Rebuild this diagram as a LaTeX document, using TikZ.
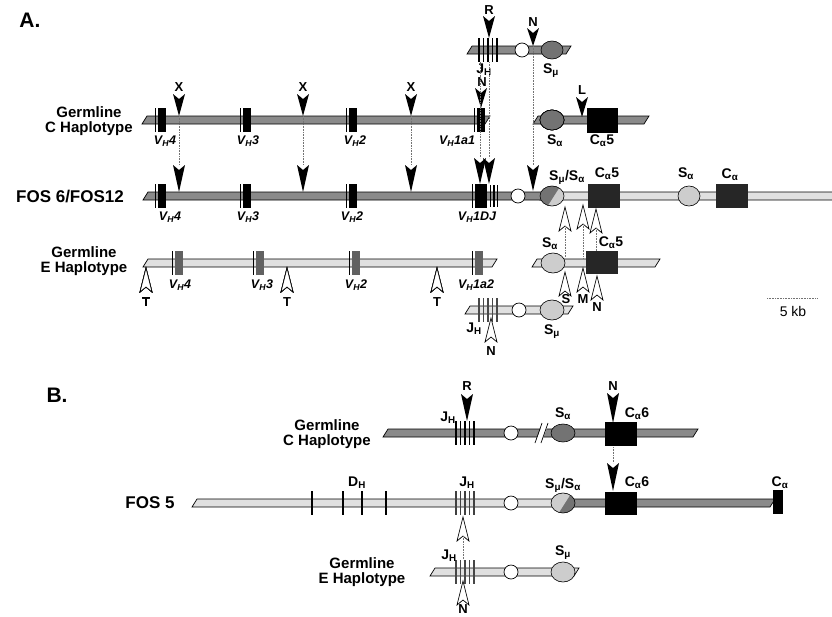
\documentclass[tikz,border=0pt]{standalone}
\usepackage{fontspec}
\setmainfont{Liberation Sans}
\usetikzlibrary{positioning}
\definecolor{chap}{RGB}{138,138,138}
\definecolor{ehap}{RGB}{224,224,224}
\definecolor{swdark}{RGB}{115,115,115}
\definecolor{swlight}{RGB}{205,205,205}
\definecolor{cblock}{RGB}{38,38,38}
\newcommand{\gVH}{V\textsubscript{H}}
\newcommand{\gJH}{J\textsubscript{H}}
\newcommand{\gDH}{D\textsubscript{H}}
\newcommand{\gSa}{S\textsubscript{α}}
\newcommand{\gSm}{S\textsubscript{μ}}
\newcommand{\gCa}{C\textsubscript{α}}
% chromosome bar with slanted ends: x1, x2, y, fill
\newcommand{\dnabar}[4]{\filldraw[fill=#4,draw=black,line width=0.7pt] (#1,#3+4) -- (#1+5,#3-4) -- (#2+5,#3-4) -- (#2,#3+4) -- cycle;}
% J_H cluster: x, y, colour
\newcommand{\jbars}[3]{\foreach \k in {0,...,4} \draw[line width=1.8pt,#3] (#1+1+4.5*\k,#2-12) -- (#1+1+4.5*\k,#2+12);}
% V segment: x, y, fill
\newcommand{\vseg}[3]{\draw[line width=0.5pt] (#1-3,#2-12) -- (#1-3,#2+12); \fill[#3] (#1,#2-12) rectangle (#1+8,#2+12);}
% black probe arrow: name, x, tip y, length
\newcommand{\dnarrow}[4]{\fill[black] (#2,#3) -- (#2-6,#3-#4) -- (#2,#3-#4+5) -- (#2+6,#3-#4) -- cycle;
  \coordinate (#1) at (#2,#3-#4); \coordinate (#1t) at (#2,#3);}
% open site arrow: name, x, tip y
\newcommand{\openarr}[3]{\filldraw[fill=white,draw=black,line width=0.7pt] (#2,#3) -- (#2-6,#3+24) -- (#2,#3+19) -- (#2+6,#3+24) -- cycle;
  \coordinate (#1) at (#2,#3+19);}
% hybrid switch region: x, y, upper-left fill, lower-right fill
\newcommand{\splitsw}[4]{\begin{scope}
  \clip (#1,#2) ellipse[x radius=12pt,y radius=10pt];
  \fill[#4] (#1-13,#2-11) rectangle (#1+13,#2+11);
  \fill[#3] (#1-13,#2-11) -- (#1+9,#2-11) -- (#1-5,#2+11) -- (#1-13,#2+11) -- cycle;
  \end{scope}
  \draw[line width=0.6pt] (#1,#2) ellipse[x radius=12pt,y radius=10pt];}

\begin{document}
\begin{tikzpicture}[x=1pt,y=-1pt,
  panel/.style={font=\bfseries\fontsize{21}{21}\selectfont,inner sep=0pt},
  rowname/.style={font=\bfseries\fontsize{15}{15}\selectfont,align=center,inner sep=0pt},
  fosname/.style={font=\bfseries\fontsize{17}{17}\selectfont,inner sep=0pt},
  seglab/.style={font=\bfseries\fontsize{14}{14}\selectfont,inner sep=0pt},
  vlab/.style={font=\bfseries\itshape\fontsize{12.5}{12.5}\selectfont,inner sep=0pt},
  sitelab/.style={font=\bfseries\fontsize{13}{13}\selectfont,inner sep=0pt},
  link/.style={densely dotted,line width=0.6pt,black!55},
  switchreg/.style={draw=black,line width=0.6pt},
  hinge/.style={fill=white,draw=black,line width=0.7pt}
]
\useasboundingbox (0,0) rectangle (832,616);

%%% A
\node[panel] (pA) at (30,20) {A.};

% J_H - S_mu fragment
\dnabar{467}{566}{50}{chap}
\jbars{478}{50}{black}
\filldraw[hinge] (522,50) circle[radius=7pt];
\filldraw[switchreg,fill=swdark] (552,50) ellipse[x radius=11pt,y radius=9pt];
\dnarrow{rT}{489}{38}{22}
\dnarrow{nT}{533}{46}{18}
\node[sitelab] (lR1) at (489,10) {R};
\node[sitelab] (lN1) at (533,22) {N};
\node[seglab] (lJ1) at (484,70) {\gJH};
\node[seglab] (lSm1) at (551,71) {\gSm};
\coordinate (jT1) at (480,62);
\coordinate (jT2) at (489,62);

% germline C haplotype
\node[rowname] (gC) at (89,121) {Germline\\C Haplotype};
\dnabar{142}{485}{120}{chap}
\dnabar{533}{644}{120}{chap}
\foreach \v in {158,243,349,477} \vseg{\v}{120}{black}
\filldraw[switchreg,fill=swdark] (552,120) ellipse[x radius=12pt,y radius=10pt];
\fill[black] (587,108) rectangle (618,133);
\dnarrow{xc1}{179}{116}{22}
\dnarrow{xc2}{303}{116}{22}
\dnarrow{xc3}{411}{116}{22}
\dnarrow{nc}{481}{108}{20}
\dnarrow{lc}{582}{117}{20}
\node[sitelab] (lX1) at (179,87) {X};
\node[sitelab] (lX2) at (303,87) {X};
\node[sitelab] (lX3) at (411,87) {X};
\node[sitelab] (lN2) at (482,82) {N};
\node[sitelab] (lL) at (582,90) {L};
\node[vlab] (vc4) at (165,141) {\gVH4};
\node[vlab] (vc3) at (248,141) {\gVH3};
\node[vlab] (vc2) at (355,141) {\gVH2};
\node[vlab] (vc1) at (457,141) {\gVH1a1};
\node[seglab] (lSa1) at (555,141) {\gSa};
\node[seglab] (lCa1) at (602,141) {\gCa5};

% FOS 6 / FOS12
\node[fosname] (f6) at (70,197) {FOS 6/FOS12};
\dnabar{540}{840}{196}{ehap}
\dnabar{143}{548}{196}{chap}
\foreach \v in {158,243,349} \vseg{\v}{196}{black}
\draw[line width=0.5pt] (472,184) -- (472,208);
\fill[black] (475,184) rectangle (487,208);
\foreach \j in {490.5,494,497.5} \draw[line width=1.4pt] (\j,185) -- (\j,207);
\filldraw[hinge] (518,196) circle[radius=7pt];
\splitsw{552}{196}{swdark}{swlight}
\fill[cblock] (588,184) rectangle (620,208);
\filldraw[switchreg,fill=swlight] (689,196) ellipse[x radius=11pt,y radius=10pt];
\fill[cblock] (716,184) rectangle (748,208);
\dnarrow{xf1}{179}{192}{27}
\dnarrow{xf2}{303}{192}{27}
\dnarrow{xf3}{411}{192}{27}
\dnarrow{jf1}{480}{184}{26}
\dnarrow{jf2}{489}{184}{26}
\dnarrow{nf}{533}{191}{26}
\openarr{sf}{565}{207}
\openarr{mf}{583}{205}
\openarr{cf}{596}{209}
\node[vlab] (vf4) at (170,217) {\gVH4};
\node[vlab] (vf3) at (248,217) {\gVH3};
\node[vlab] (vf2) at (352,217) {\gVH2};
\node[vlab] (vf1) at (477,217) {\gVH1DJ};
\node[seglab] (lSw1) at (567,177) {\gSm/\gSa};
\node[seglab] (lCa2) at (607,174) {\gCa5};
\node[seglab] (lSa2) at (686,174) {\gSa};
\node[seglab] (lCa3) at (730,175) {\gCa};

% germline E haplotype
\node[rowname] (gE) at (84,261) {Germline\\E Haplotype};
\dnabar{143}{492}{263}{ehap}
\foreach \v in {175,256,352,475} \vseg{\v}{263}{black!62}
\openarr{te1}{146}{268}
\openarr{te2}{287}{268}
\openarr{te3}{437}{268}
\node[sitelab] (lT1) at (146,302) {T};
\node[sitelab] (lT2) at (287,302) {T};
\node[sitelab] (lT3) at (437,302) {T};
\node[vlab] (ve4) at (180,285) {\gVH4};
\node[vlab] (ve3) at (262,285) {\gVH3};
\node[vlab] (ve2) at (356,285) {\gVH2};
\node[vlab] (ve1) at (476,285) {\gVH1a2};
\dnabar{532}{655}{263}{ehap}
\filldraw[switchreg,fill=swlight] (553,263) ellipse[x radius=12pt,y radius=10pt];
\fill[cblock] (586,251) rectangle (618,274);
\coordinate (se) at (565,257);
\coordinate (me) at (583,259);
\coordinate (ce) at (596,251);
\openarr{se2}{565}{272}
\openarr{me2}{583}{268}
\openarr{ce2}{597}{276}
\node[sitelab] (lS) at (566,299) {S};
\node[sitelab] (lM) at (583,299) {M};
\node[sitelab] (lN3) at (597,307) {N};
\node[seglab] (lSa3) at (550,244) {\gSa};
\node[seglab] (lCa4) at (611,243) {\gCa5};

% E haplotype J_H - S_mu fragment
\dnabar{465}{568}{310}{ehap}
\jbars{478}{310}{black!72}
\filldraw[hinge] (519,310) circle[radius=7pt];
\filldraw[switchreg,fill=swlight] (552,310) ellipse[x radius=12pt,y radius=10pt];
\openarr{ne}{491}{318}
\node[seglab] (lJ2) at (474,329) {\gJH};
\node[seglab] (lSm2) at (552,332) {\gSm};
\node[sitelab] (lN4) at (491,351) {N};

% scale
\coordinate (sc1) at (767,298);
\coordinate (sc2) at (818,298);
\draw[link] (sc1) -- (sc2);
\node[font=\fontsize{14}{14}\selectfont,inner sep=0pt] (kb) at (793,311) {5 kb};

% links
\draw[link] (xc1t) -- (xf1);
\draw[link] (xc2t) -- (xf2);
\draw[link] (xc3t) -- (xf3);
\draw[link] (jT1) -- (jf1);
\draw[link] (jT2) -- (jf2);
\draw[link] (nTt) -- (nf);
\draw[link] (sf) -- (se);
\draw[link] (mf) -- (me);
\draw[link] (cf) -- (ce);

%%% B
\node[panel] (pB) at (57,395) {B.};

% germline C haplotype
\node[rowname] (bgC) at (327,434) {Germline\\C Haplotype};
\dnabar{383}{693}{433}{chap}
\jbars{455}{433}{black}
\filldraw[hinge] (511,433) circle[radius=7pt];
\fill[white] (536,441) -- (542,425) -- (548,425) -- (542,441) -- cycle;
\draw[line width=0.7pt] (535,443) -- (542,423) (541,443) -- (548,423);
\filldraw[switchreg,fill=swdark] (563,433) ellipse[x radius=12pt,y radius=9pt];
\fill[black] (605,422) rectangle (637,446);
\dnarrow{rB}{467}{421}{27}
\dnarrow{nB}{613}{423}{30}
\coordinate (cB) at (613,447);
\node[sitelab] (lR2) at (467,386) {R};
\node[sitelab] (lN5) at (613,386) {N};
\node[seglab] (lJ3) at (448,418) {\gJH};
\node[seglab] (lSa4) at (563,414) {\gSa};
\node[seglab] (lCa5) at (637,414) {\gCa6};

% FOS 5
\node[fosname] (f5) at (150,503) {FOS 5};
\dnabar{563}{770}{503}{chap}
\dnabar{192}{565}{503}{ehap}
\fill[black] (773,490) rectangle (783,514);
\foreach \d in {312,343,362,386} \draw[line width=1.3pt] (\d,491) -- (\d,515);
\jbars{455}{503}{black!75}
\filldraw[hinge] (511,503) circle[radius=7pt];
\splitsw{563}{503}{swlight}{swdark}
\fill[black] (605,492) rectangle (637,515);
\dnarrow{nF5}{613}{491}{28}
\openarr{jF5}{463}{517}
\node[seglab] (lD) at (357,483) {\gDH};
\node[seglab] (lJ4) at (467,483) {\gJH};
\node[seglab] (lSw2) at (563,485) {\gSm/\gSa};
\node[seglab] (lCa6) at (637,483) {\gCa6};
\node[seglab] (lCa7) at (780,483) {\gCa};

% germline E haplotype
\node[rowname] (bgE) at (362,572) {Germline\\E Haplotype};
\dnabar{430}{574}{572}{ehap}
\jbars{455}{572}{black!72}
\filldraw[hinge] (511,572) circle[radius=7pt];
\filldraw[switchreg,fill=swlight] (563,572) ellipse[x radius=12pt,y radius=10pt];
\coordinate (jE) at (463,560);
\openarr{nBE}{463}{581}
\node[seglab] (lJ5) at (449,556) {\gJH};
\node[seglab] (lSm3) at (563,553) {\gSm};
\node[sitelab] (lN6) at (463,609) {N};

% links
\draw[link] (cB) -- (nF5);
\draw[link] (jF5) -- (jE);
\end{tikzpicture}
\end{document}
